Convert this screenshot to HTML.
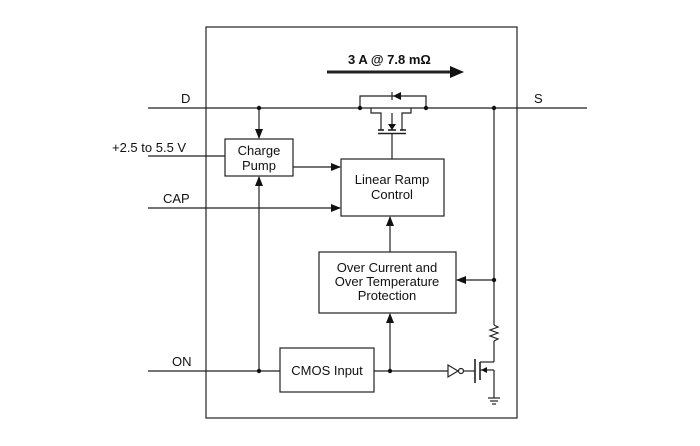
<!DOCTYPE html><html><head><style>body{margin:0;background:#fff}svg{display:block}text{font-family:"Liberation Sans",sans-serif;font-size:13px;fill:#111}</style></head><body>
<svg width="700" height="446" viewBox="0 0 700 446" xmlns="http://www.w3.org/2000/svg">
<defs><marker id="a" markerWidth="10" markerHeight="8" refX="9" refY="4" orient="auto" markerUnits="userSpaceOnUse"><path d="M0,0 L10,4 L0,8 z" fill="#111"/></marker></defs>
<g stroke="#222" stroke-width="1.2" fill="none">
<rect x="206" y="27" width="311" height="391"/>
<line x1="148" y1="108" x2="587" y2="108"/>
<line x1="148" y1="156" x2="225" y2="156"/>
<line x1="148" y1="208" x2="340" y2="208" marker-end="url(#a)"/>
<line x1="148" y1="371" x2="280" y2="371"/>
<rect x="225" y="139" width="68" height="37"/>
<rect x="341" y="159" width="103" height="57"/>
<rect x="319" y="252" width="137" height="61"/>
<rect x="280" y="348" width="94" height="44"/>
<line x1="259" y1="108" x2="259" y2="138" marker-end="url(#a)"/>
<line x1="293" y1="167" x2="340" y2="167" marker-end="url(#a)"/>
<line x1="259" y1="371" x2="259" y2="177" marker-end="url(#a)"/>
<line x1="390" y1="252" x2="390" y2="217" marker-end="url(#a)"/>
<line x1="390" y1="371" x2="390" y2="314" marker-end="url(#a)"/>
<line x1="494" y1="280" x2="457" y2="280" marker-end="url(#a)"/>
<line x1="374" y1="371" x2="448" y2="371"/>
<path d="M448,365 L448,377 L458,371 z"/>
<circle cx="461" cy="371" r="2.5"/>
<line x1="463" y1="371" x2="475" y2="371"/>
<line x1="475" y1="359" x2="475" y2="383" stroke-width="1.6"/>
<line x1="480" y1="362" x2="480" y2="380" stroke-width="1.6"/>
<line x1="480" y1="362" x2="494" y2="362"/>
<line x1="480" y1="370" x2="494" y2="370"/>
<line x1="494" y1="370" x2="494" y2="398"/>
<line x1="494" y1="108" x2="494" y2="325"/>
<path d="M494,325 l4,2 l-8,3 l8,3 l-8,3 l8,3 l-4,2"/>
<line x1="494" y1="341" x2="494" y2="362"/>
<line x1="488" y1="398" x2="500" y2="398"/><line x1="490" y1="401" x2="498" y2="401"/><line x1="492" y1="404" x2="496" y2="404"/>
<path d="M360,108 L360,96 L426,96 L426,108"/>
<line x1="392" y1="92" x2="392" y2="100"/>
<path d="M371,108 L371,113 L381,113 L381,130 M411,108 L411,113 L402,113 L402,130"/>
<line x1="378" y1="130" x2="384" y2="130" stroke-width="1.6"/><line x1="388" y1="130" x2="396" y2="130" stroke-width="1.6"/><line x1="400" y1="130" x2="406" y2="130" stroke-width="1.6"/>
<line x1="378" y1="133.5" x2="406" y2="133.5" stroke-width="1.6"/>
<line x1="392" y1="113" x2="392" y2="130"/>
<line x1="392" y1="134" x2="392" y2="159"/>
<line x1="327" y1="72" x2="452" y2="72" stroke-width="3"/>
</g>
<g fill="#111">
<path d="M401,92 L393,96 L401,100 z"/>
<path d="M388,124 L392,130 L396,124 z"/>
<path d="M487,367 L481,370 L487,373 z"/>
<path d="M450,66 L464,72 L450,78 z"/>
<circle cx="259" cy="108" r="2.2"/><circle cx="360" cy="108" r="2.2"/><circle cx="426" cy="108" r="2.2"/><circle cx="494" cy="108" r="2.2"/><circle cx="494" cy="280" r="2.2"/><circle cx="259" cy="371" r="2.2"/><circle cx="390" cy="371" r="2.2"/>
</g>
<text x="348" y="64" style="font-weight:bold">3 A @ 7.8 mΩ</text>
<text x="181" y="103">D</text>
<text x="534" y="103">S</text>
<text x="112" y="152">+2.5 to 5.5 V</text>
<text x="163" y="203">CAP</text>
<text x="172" y="366">ON</text>
<text x="259" y="155" text-anchor="middle">Charge</text>
<text x="259" y="170" text-anchor="middle">Pump</text>
<text x="392" y="184" text-anchor="middle">Linear Ramp</text>
<text x="392" y="199" text-anchor="middle">Control</text>
<text x="387" y="272" text-anchor="middle">Over Current and</text>
<text x="387" y="286" text-anchor="middle">Over Temperature</text>
<text x="387" y="300" text-anchor="middle">Protection</text>
<text x="327" y="375" text-anchor="middle">CMOS Input</text>
</svg></body></html>
